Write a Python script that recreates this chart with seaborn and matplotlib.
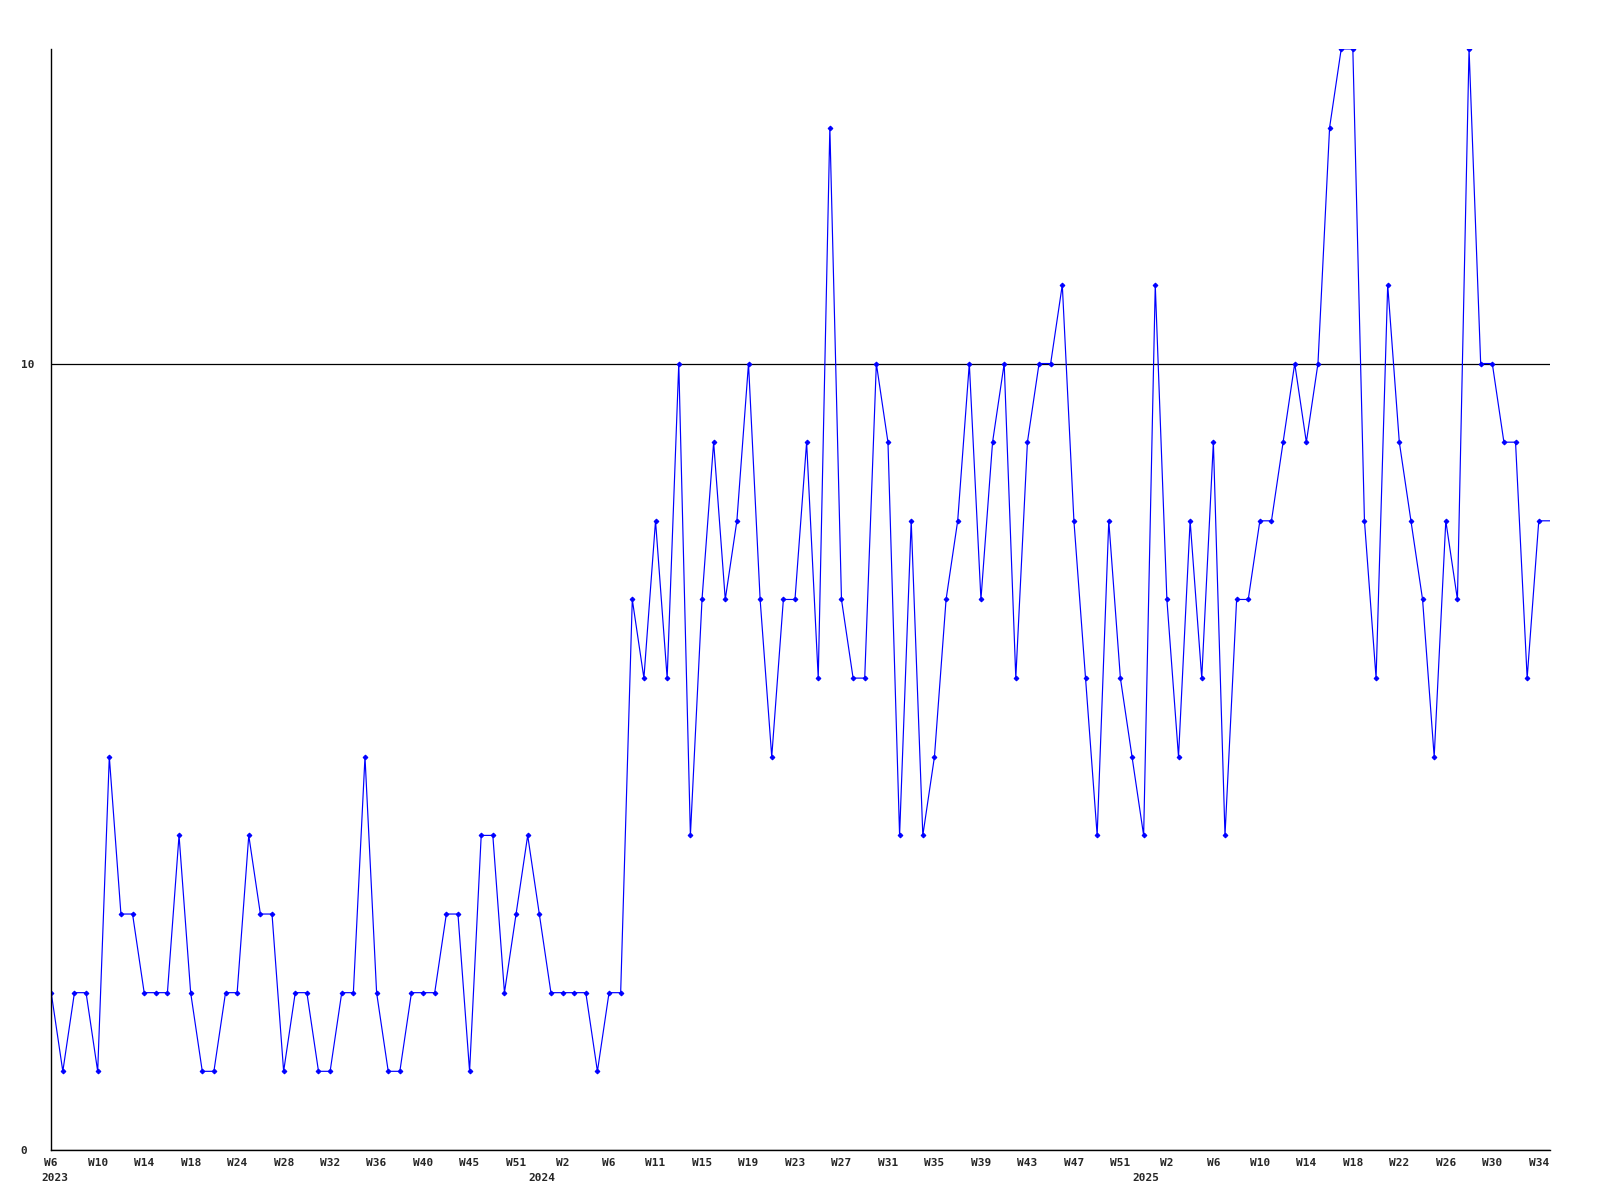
import numpy as np
import pandas as pd
import matplotlib
matplotlib.use("Agg")
import matplotlib.pyplot as plt
import matplotlib.transforms as mtransforms
import seaborn as sns

# weekly counts, 2023 W6 .. 2025 W34
counts = [2, 1, 2, 2, 1, 5, 3, 3, 2, 2,
          2, 4, 2, 1, 1, 2, 2, 4, 3, 3,
          1, 2, 2, 1, 1, 2, 2, 5, 2, 1,
          1, 2, 2, 2, 3, 3, 1, 4, 4, 2,
          3, 4, 3, 2, 2, 2, 2, 1, 2, 2,
          7, 6, 8, 6, 10, 4, 7, 9, 7, 8,
          10, 7, 5, 7, 7, 9, 6, 13, 7, 6,
          6, 10, 9, 4, 8, 4, 5, 7, 8, 10,
          7, 9, 10, 6, 9, 10, 10, 11, 8, 6,
          4, 8, 6, 5, 4, 11, 7, 5, 8, 6,
          9, 4, 7, 7, 8, 8, 9, 10, 9, 10,
          13, 14, 14, 8, 6, 11, 9, 8, 7, 5,
          8, 7, 14, 10, 10, 9, 9, 6, 8, 8]

# every 4th week gets a label
week_labels = ["W6", "W10", "W14", "W18", "W24", "W28", "W32", "W36", "W40",
               "W45", "W51", "W2", "W6", "W11", "W15", "W19", "W23", "W27",
               "W31", "W35", "W39", "W43", "W47", "W51", "W2", "W6", "W10",
               "W14", "W18", "W22", "W26", "W30", "W34"]
years = ["2023", "2024", "2025"]
year_idx = [0.3, 42.2, 94.2]

df = pd.DataFrame({"idx": np.arange(len(counts)), "count": counts})

sns.set_style("white")
plt.rcParams["font.family"] = ["DejaVu Sans Mono", "DejaVu Sans"]

fig = plt.figure(figsize=(16, 12), dpi=100)
ax = fig.add_axes([0.032, 0.0417, 0.937, 0.9175])

sns.lineplot(data=df, x="idx", y="count", ax=ax, color="#0000ff",
             linewidth=0.85, marker="D", markersize=2.4,
             markeredgecolor="#0000ff", markevery=list(range(len(counts) - 1)))

ax.set_xlim(0, len(counts) - 1)
ax.set_ylim(0, 14)
ax.set_xlabel("")
ax.set_ylabel("")

ax.set_yticks([0, 10])
ax.set_yticklabels(["0", "10"])
ax.yaxis.grid(True, color="black", linewidth=0.9)
ax.xaxis.grid(False)

ax.set_xticks(np.arange(0, len(counts), 4))
ax.set_xticklabels(week_labels)
ax.tick_params(axis="x", length=0, pad=5.5, labelsize=8)
ax.tick_params(axis="y", length=0, pad=22, labelsize=8)
for lab in ax.get_yticklabels():
    lab.set_horizontalalignment("left")
    lab.set_fontweight("bold")
for lab in ax.get_xticklabels():
    lab.set_fontweight("bold")

trans = mtransforms.blended_transform_factory(ax.transData, ax.transAxes)
for yr, pos in zip(years, year_idx):
    ax.text(pos, -0.0205, yr, transform=trans, ha="center", va="top",
            fontsize=8, fontweight="bold")

for side in ["top", "right"]:
    ax.spines[side].set_visible(False)
for side in ["left", "bottom"]:
    ax.spines[side].set_color("black")
    ax.spines[side].set_linewidth(1.0)

fig.savefig("out.png", dpi=100)
